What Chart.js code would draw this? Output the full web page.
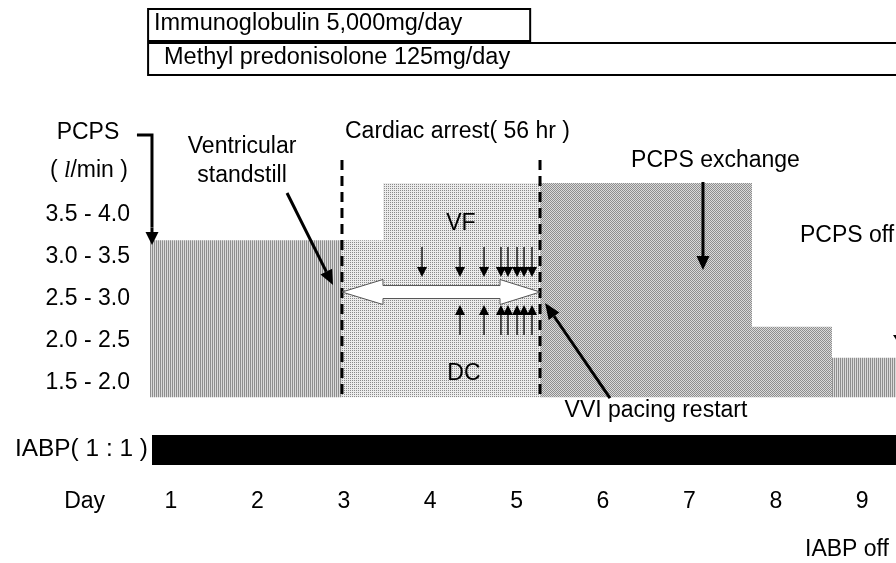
<!DOCTYPE html>
<html>
<head>
<meta charset="utf-8">
<script src="https://cdn.jsdelivr.net/npm/chart.js@4.4.1/dist/chart.umd.min.js"></script>
<style>
  html, body { margin: 0; padding: 0; background: #fff; }
</style>
</head>
<body>
<canvas id="chart" width="896" height="563"></canvas>
<script>
// day axis
const dayTicks = [0, 1, 2, 3, 4, 5, 6, 7, 8, 9];
const dayLabels = ['Day', '1', '2', '3', '4', '5', '6', '7', '8', '9'];

// PCPS flow bands (l/min)
const flowBands = ['1.5 - 2.0', '2.0 - 2.5', '2.5 - 3.0', '3.0 - 3.5', '3.5 - 4.0'];
const flowBandMid = [1.75, 2.25, 2.75, 3.25, 3.75];

// PCPS flow steps (day from / day to / flow level)
const pcpsFrom = [0.757, 2.979, 3.453, 5.271, 7.725, 8.65];
const pcpsTo = [2.979, 3.453, 5.271, 7.725, 8.65, 9.6];
const pcpsFlow = [3.45, 3.45, 4.13, 4.13, 2.42, 2.05];
const pcpsBase = 1.58;
const pcpsTexture = ['stripe', 'dots', 'dots', 'checker', 'checker', 'stripe'];

// cardiac arrest window (56 hr) and shocks
const arrestFrom = 2.979, arrestTo = 5.271;
const vfShocks = [3.905, 4.345, 4.623, 4.819, 4.9, 5.005, 5.086, 5.178];
const dcShocks = [4.345, 4.623, 4.819, 4.9, 5.005, 5.086, 5.178];

// treatments
const iabpFrom = 0.78, iabpTo = 9.6;
const immunoglobulin = [0.735, 5.157];
const methylPred = [0.735, 9.6];

const FONT = "'Liberation Sans', Arial, sans-serif";
const FS = 23;

function texture(kind) {
  const c = document.createElement('canvas');
  c.width = 2; c.height = 2;
  const g = c.getContext('2d');
  const px = (x, y, col) => { g.fillStyle = col; g.fillRect(x, y, 1, 1); };
  if (kind === 'stripe') {
    px(0, 0, '#8e8e8e'); px(0, 1, '#8e8e8e'); px(1, 0, '#dadada'); px(1, 1, '#dadada');
  } else if (kind === 'checker') {
    px(0, 0, '#8e8e8e'); px(1, 1, '#8e8e8e'); px(1, 0, '#dadada'); px(0, 1, '#dadada');
  } else {
    px(0, 0, '#8a8a8a'); px(1, 0, '#ececec'); px(0, 1, '#ececec'); px(1, 1, '#ececec');
  }
  return g.createPattern(c, 'repeat');
}

const datasets = pcpsFlow.map((v, i) => ({
  data: [{ x: pcpsFrom[i], y: v }, { x: pcpsTo[i], y: v }],
  fill: { value: pcpsBase },
  backgroundColor: texture(pcpsTexture[i]),
  borderWidth: 0,
  pointRadius: 0
}));
datasets.push({
  data: [{ x: iabpFrom, y: 1.131 }, { x: iabpTo, y: 1.131 }],
  fill: { value: 0.774 },
  backgroundColor: '#000',
  borderWidth: 0,
  pointRadius: 0
});

function arrow(ctx, x1, y1, x2, y2, lw, hl, hw) {
  const a = Math.atan2(y2 - y1, x2 - x1);
  const bx = x2 - Math.cos(a) * hl, by = y2 - Math.sin(a) * hl;
  ctx.save();
  ctx.strokeStyle = '#000';
  ctx.fillStyle = '#000';
  ctx.lineWidth = lw;
  ctx.beginPath();
  ctx.moveTo(x1, y1);
  ctx.lineTo(bx, by);
  ctx.stroke();
  ctx.beginPath();
  ctx.moveTo(x2, y2);
  ctx.lineTo(bx + Math.sin(a) * hw / 2, by - Math.cos(a) * hw / 2);
  ctx.lineTo(bx - Math.sin(a) * hw / 2, by + Math.cos(a) * hw / 2);
  ctx.closePath();
  ctx.fill();
  ctx.restore();
}

const notes = {
  id: 'notes',
  afterDatasetsDraw(chart) {
    const ctx = chart.ctx;
    const X = v => chart.scales.x.getPixelForValue(v);
    const Y = v => chart.scales.y.getPixelForValue(v);
    const text = (s, x, y, align, size, fitW) => {
      ctx.save();
      ctx.font = (size || FS) + 'px ' + FONT;
      ctx.textAlign = align || 'center';
      ctx.textBaseline = 'middle';
      ctx.fillStyle = '#000';
      ctx.translate(X(x), Y(y));
      if (fitW) ctx.scale(fitW / ctx.measureText(s).width, 1);
      ctx.fillText(s, 0, 0);
      ctx.restore();
    };

    // treatment boxes
    ctx.save();
    ctx.strokeStyle = '#000';
    ctx.lineWidth = 2;
    ctx.strokeRect(X(immunoglobulin[0]), Y(6.2024), X(immunoglobulin[1]) - X(immunoglobulin[0]), Y(5.8214) - Y(6.2024));
    ctx.strokeRect(X(methylPred[0]), Y(5.7976), X(methylPred[1]) - X(methylPred[0]), Y(5.4167) - Y(5.7976));
    ctx.restore();
    text('Immunoglobulin 5,000mg/day', 0.803, 6.0238, 'left', 23.5);
    text('Methyl predonisolone 125mg/day', 0.919, 5.619, 'left', 23.5);

    // cardiac arrest dashed borders
    ctx.save();
    ctx.strokeStyle = '#000';
    ctx.lineWidth = 3;
    ctx.setLineDash([10, 6]);
    [arrestFrom, arrestTo].forEach(d => {
      ctx.beginPath();
      ctx.moveTo(X(d), Y(4.405));
      ctx.lineTo(X(d), Y(pcpsBase));
      ctx.stroke();
    });
    ctx.restore();

    // flow band labels
    flowBands.forEach((s, i) => text(s, 0.525, flowBandMid[i], 'right'));

    // PCPS axis title, unit and bracket arrow
    text('PCPS', 0.039, 4.726);
    const serif = 'italic ' + FS + 'px "Liberation Serif", serif';
    const sans = FS + 'px ' + FONT;
    ctx.save();
    ctx.font = serif;
    const wl = ctx.measureText('l').width;
    ctx.font = sans;
    const w1 = ctx.measureText('( ').width, w3 = ctx.measureText('/min )').width;
    const sx = X(0.051) - (w1 + wl + w3) / 2, sy = Y(4.274);
    ctx.textAlign = 'left';
    ctx.textBaseline = 'middle';
    ctx.fillStyle = '#000';
    ctx.fillText('( ', sx, sy);
    ctx.font = serif;
    ctx.fillText('l', sx + w1, sy);
    ctx.font = sans;
    ctx.fillText('/min )', sx + w1 + wl, sy);
    ctx.lineWidth = 3;
    ctx.beginPath();
    ctx.moveTo(X(0.606), Y(4.702));
    ctx.lineTo(X(0.78), Y(4.702));
    ctx.lineTo(X(0.78), Y(3.6));
    ctx.stroke();
    ctx.restore();
    arrow(ctx, X(0.78), Y(3.6), X(0.78), Y(3.393), 3, 13, 13);

    // event labels
    text('Ventricular', 1.823, 4.56);
    text('standstill', 1.823, 4.214);
    arrow(ctx, X(2.343), Y(4.012), X(2.875), Y(2.917), 3, 15, 13);

    text('Cardiac arrest( 56 hr )', 3.014, 4.738, 'left');
    text('VF', 4.356, 3.643);
    text('DC', 4.391, 1.857);

    text('PCPS exchange', 7.302, 4.393);
    arrow(ctx, X(7.157), Y(4.143), X(7.157), Y(3.095), 3, 14, 13);

    text('VVI pacing restart', 6.613, 1.417);
    arrow(ctx, X(6.081), Y(1.571), X(5.329), Y(2.702), 3, 16, 13);

    text('PCPS off', 8.28, 3.5, 'left');
    arrow(ctx, X(9.449), Y(3.274), X(9.449), Y(2.179), 3, 12, 16);

    text('IABP( 1 : 1 )', -0.806, 0.958, 'left', FS, 133);
    text('IABP off', 8.338, -0.238, 'left');

    // hollow double arrow across the arrest window
    const cy = Y(2.833), sh = 6.5, hh = 12.5;
    const xa = X(arrestFrom), xb = X(arrestTo);
    const xh1 = xa + 41, xh2 = xb - 40;
    ctx.save();
    ctx.beginPath();
    ctx.moveTo(xa, cy);
    ctx.lineTo(xh1, cy - hh);
    ctx.lineTo(xh1, cy - sh);
    ctx.lineTo(xh2, cy - sh);
    ctx.lineTo(xh2, cy - hh);
    ctx.lineTo(xb, cy);
    ctx.lineTo(xh2, cy + hh);
    ctx.lineTo(xh2, cy + sh);
    ctx.lineTo(xh1, cy + sh);
    ctx.lineTo(xh1, cy + hh);
    ctx.closePath();
    ctx.fillStyle = '#fff';
    ctx.fill();
    ctx.strokeStyle = '#555';
    ctx.lineWidth = 1;
    ctx.stroke();
    ctx.restore();

    // VF / DC shock arrows
    vfShocks.forEach(d => arrow(ctx, X(d), Y(3.369), X(d), Y(3.012), 1.3, 10, 10));
    dcShocks.forEach(d => arrow(ctx, X(d), Y(2.321), X(d), Y(2.679), 1.3, 10, 10));
  }
};

new Chart(document.getElementById('chart'), {
  type: 'line',
  data: { datasets },
  options: {
    responsive: false,
    animation: false,
    layout: { padding: 0 },
    plugins: { legend: { display: false }, tooltip: { enabled: false } },
    scales: {
      x: {
        type: 'linear',
        min: -0.979,
        max: 9.391,
        grid: { display: false, drawTicks: false },
        border: { display: false },
        afterBuildTicks: s => { s.ticks = dayTicks.map(v => ({ value: v })); },
        afterFit: s => { s.height = 83; },
        ticks: {
          autoSkip: false,
          maxRotation: 0,
          padding: 8,
          color: '#000',
          font: { family: FONT, size: FS },
          callback: v => { const i = dayTicks.indexOf(v); return i < 0 ? '' : dayLabels[i]; }
        }
      },
      y: { display: false, min: 0.5952, max: 6.3095 }
    }
  },
  plugins: [notes]
});
</script>
</body>
</html>
